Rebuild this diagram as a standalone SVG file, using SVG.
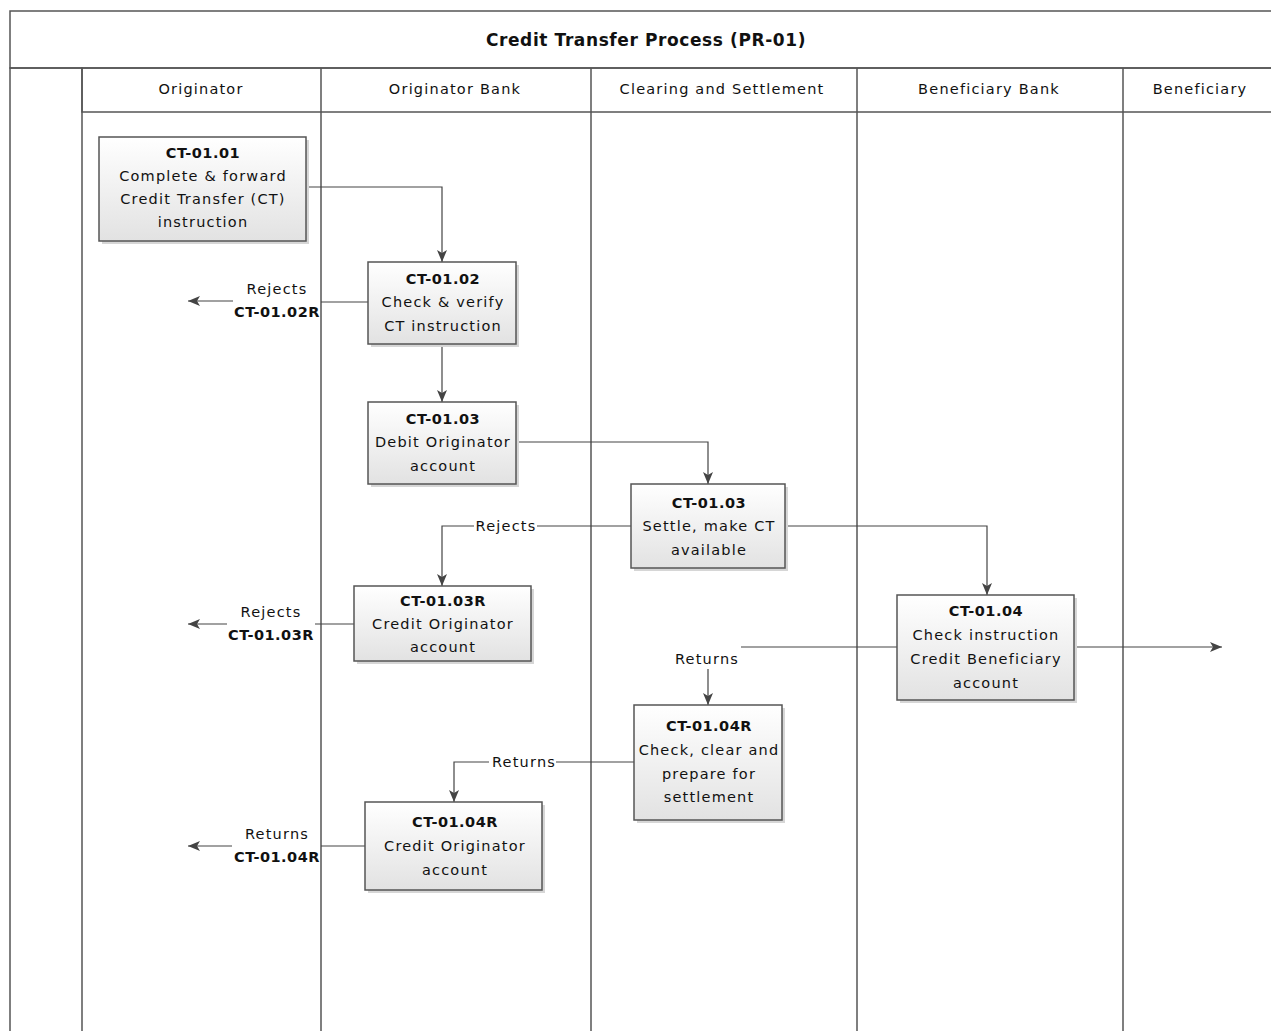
<svg xmlns="http://www.w3.org/2000/svg" width="1271" height="1031" viewBox="0 0 1271 1031">
<defs>
<linearGradient id="gBox" x1="0" y1="0" x2="0" y2="1"><stop offset="0" stop-color="#ffffff"/><stop offset="1" stop-color="#e2e2e2"/></linearGradient>
<linearGradient id="gHead" x1="0" y1="0" x2="0" y2="1"><stop offset="0" stop-color="#ffffff"/><stop offset="1" stop-color="#e9e9e9"/></linearGradient>
<linearGradient id="gSide" x1="0" y1="0" x2="1" y2="0"><stop offset="0" stop-color="#ffffff"/><stop offset="1" stop-color="#e6e6e6"/></linearGradient>
<marker id="arr" viewBox="0 0 12 10" refX="12" refY="5" markerWidth="12" markerHeight="10" markerUnits="userSpaceOnUse" orient="auto"><path d="M0,0 L12,5 L0,10 L3,5 Z" fill="#444"/></marker>
<style>
.lane{fill:none;stroke:#555;stroke-width:1.5}
.box{fill:url(#gBox);stroke:#555;stroke-width:1.5}
.shadow{fill:#d6d6d6}
.t{font-family:"DejaVu Sans",sans-serif;font-size:14.5px;fill:#111;text-anchor:middle;letter-spacing:1.2px}
.b{font-weight:bold;letter-spacing:0.5px}
.title{font-family:"DejaVu Sans",sans-serif;font-size:17px;font-weight:bold;fill:#111;text-anchor:middle;letter-spacing:0.6px}
.c{fill:none;stroke:#444;stroke-width:1.2}
</style>
</defs>
<rect width="1271" height="1031" fill="#ffffff"/>
<g id="pool">
<rect x="10" y="11" width="1275" height="57" fill="url(#gHead)" class="lane"/>
<text class="title" x="646" y="46">Credit Transfer Process (PR-01)</text>
<rect x="10" y="68" width="72" height="975" fill="url(#gSide)" class="lane"/>
<rect x="82" y="68" width="1203" height="44" fill="url(#gHead)" class="lane"/>
<line class="lane" x1="321" y1="68" x2="321" y2="1040"/>
<line class="lane" x1="591" y1="68" x2="591" y2="1040"/>
<line class="lane" x1="857" y1="68" x2="857" y2="1040"/>
<line class="lane" x1="1123" y1="68" x2="1123" y2="1040"/>
<text class="t" x="201" y="94">Originator</text>
<text class="t" x="455" y="94">Originator Bank</text>
<text class="t" x="722" y="94">Clearing and Settlement</text>
<text class="t" x="989" y="94">Beneficiary Bank</text>
<text class="t" x="1200" y="94">Beneficiary</text>
</g>
<g id="connectors">
<polyline class="c" points="306,187 442,187 442,262" marker-end="url(#arr)"/>
<line class="c" x1="368" y1="302" x2="321" y2="302"/>
<line class="c" x1="233" y1="301" x2="188" y2="301" marker-end="url(#arr)"/>
<text class="t" x="277" y="294">Rejects</text>
<text class="t b" x="277" y="317">CT-01.02R</text>
<line class="c" x1="442" y1="344" x2="442" y2="402" marker-end="url(#arr)"/>
<polyline class="c" points="516,442 708,442 708,484" marker-end="url(#arr)"/>
<polyline class="c" points="631,526 442,526 442,586" marker-end="url(#arr)"/>
<rect x="474" y="517" width="63" height="18" fill="#ffffff"/>
<text class="t" x="506" y="531">Rejects</text>
<polyline class="c" points="785,526 987,526 987,595" marker-end="url(#arr)"/>
<line class="c" x1="354" y1="624" x2="315" y2="624"/>
<line class="c" x1="227" y1="624" x2="188" y2="624" marker-end="url(#arr)"/>
<text class="t" x="271" y="617">Rejects</text>
<text class="t b" x="271" y="640">CT-01.03R</text>
<line class="c" x1="1074" y1="647" x2="1222" y2="647" marker-end="url(#arr)"/>
<line class="c" x1="897" y1="647" x2="741" y2="647"/>
<text class="t" x="707" y="664">Returns</text>
<line class="c" x1="708" y1="669" x2="708" y2="705" marker-end="url(#arr)"/>
<polyline class="c" points="634,762 454,762 454,802" marker-end="url(#arr)"/>
<rect x="489" y="753" width="67" height="18" fill="#ffffff"/>
<text class="t" x="524" y="767">Returns</text>
<line class="c" x1="365" y1="846" x2="321" y2="846"/>
<line class="c" x1="232" y1="846" x2="188" y2="846" marker-end="url(#arr)"/>
<text class="t" x="277" y="839">Returns</text>
<text class="t b" x="277" y="862">CT-01.04R</text>
</g>
<g id="n0101">
<rect class="shadow" x="102" y="140" width="207" height="104"/>
<rect class="box" x="99" y="137" width="207" height="104"/>
<text class="t b" x="203" y="158">CT-01.01</text>
<text class="t" x="203" y="181">Complete &amp; forward</text>
<text class="t" x="203" y="204">Credit Transfer (CT)</text>
<text class="t" x="203" y="227">instruction</text>
</g>
<g id="n0102">
<rect class="shadow" x="371" y="265" width="148" height="82"/>
<rect class="box" x="368" y="262" width="148" height="82"/>
<text class="t b" x="443" y="284">CT-01.02</text>
<text class="t" x="443" y="307">Check &amp; verify</text>
<text class="t" x="443" y="331">CT instruction</text>
</g>
<g id="n0103a">
<rect class="shadow" x="371" y="405" width="148" height="82"/>
<rect class="box" x="368" y="402" width="148" height="82"/>
<text class="t b" x="443" y="424">CT-01.03</text>
<text class="t" x="443" y="447">Debit Originator</text>
<text class="t" x="443" y="471">account</text>
</g>
<g id="n0103b">
<rect class="shadow" x="634" y="487" width="154" height="84"/>
<rect class="box" x="631" y="484" width="154" height="84"/>
<text class="t b" x="709" y="508">CT-01.03</text>
<text class="t" x="709" y="531">Settle, make CT</text>
<text class="t" x="709" y="555">available</text>
</g>
<g id="n0103R">
<rect class="shadow" x="357" y="589" width="177" height="75"/>
<rect class="box" x="354" y="586" width="177" height="75"/>
<text class="t b" x="443" y="606">CT-01.03R</text>
<text class="t" x="443" y="629">Credit Originator</text>
<text class="t" x="443" y="652">account</text>
</g>
<g id="n0104">
<rect class="shadow" x="900" y="598" width="177" height="105"/>
<rect class="box" x="897" y="595" width="177" height="105"/>
<text class="t b" x="986" y="616">CT-01.04</text>
<text class="t" x="986" y="640">Check instruction</text>
<text class="t" x="986" y="664">Credit Beneficiary</text>
<text class="t" x="986" y="688">account</text>
</g>
<g id="n0104Ra">
<rect class="shadow" x="637" y="708" width="148" height="115"/>
<rect class="box" x="634" y="705" width="148" height="115"/>
<text class="t b" x="709" y="731">CT-01.04R</text>
<text class="t" x="709" y="755">Check, clear and</text>
<text class="t" x="709" y="779">prepare for</text>
<text class="t" x="709" y="802">settlement</text>
</g>
<g id="n0104Rb">
<rect class="shadow" x="368" y="805" width="177" height="88"/>
<rect class="box" x="365" y="802" width="177" height="88"/>
<text class="t b" x="455" y="827">CT-01.04R</text>
<text class="t" x="455" y="851">Credit Originator</text>
<text class="t" x="455" y="875">account</text>
</g>
</svg>
